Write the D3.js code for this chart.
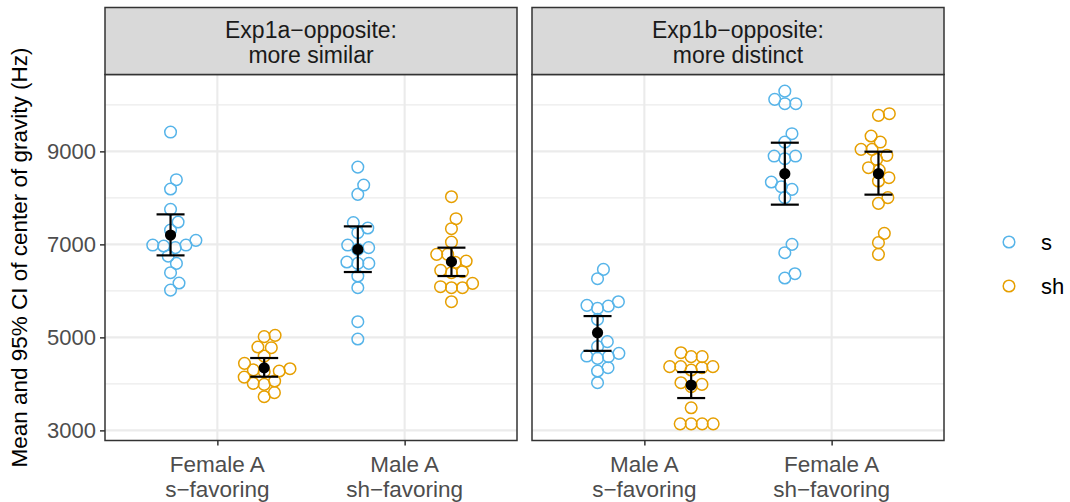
<!DOCTYPE html>
<html>
<head>
<meta charset="utf-8">
<script src="https://cdn.jsdelivr.net/npm/d3@7"></script>
<style>
  html, body { margin: 0; padding: 0; background: #fff; }
  svg { display: block; font-family: "Liberation Sans", Arial, Helvetica, sans-serif; }
</style>
</head>
<body>
<svg id="chart" width="1070" height="502"></svg>
<script>
// Facet titles and the two talker conditions inside each facet
const facetLabels = ["Exp1a\u2212opposite:\nmore similar", "Exp1b\u2212opposite:\nmore distinct"];
const exp1aCategories = ["Female A\ns\u2212favoring", "Male A\nsh\u2212favoring"];
const exp1bCategories = ["Male A\ns\u2212favoring", "Female A\nsh\u2212favoring"];
const seriesNames = ["s", "sh"];
const yTicks = [3000, 5000, 7000, 9000];
const yMinorTicks = [4000, 6000, 8000, 10000];

// Per-listener centre of gravity (Hz)
const exp1aFemaleA_s  = [9415, 8391, 8190, 7753, 7480, 7308, 6985, 6964, 6929, 6985, 7086, 6748, 6591, 6391, 6168, 6017];
const exp1aMaleA_s    = [8662, 8275, 8075, 7467, 7351, 7251, 6985, 6929, 6892, 6620, 6591, 6591, 6319, 6068, 5337, 4964];
const exp1aFemaleA_sh = [5015, 5043, 4778, 4792, 4598, 4441, 4276, 4262, 4326, 4300, 4146, 4011, 3989, 4061, 3811, 3724];
const exp1aMaleA_sh   = [8025, 7552, 7337, 7049, 6785, 6642, 6785, 6613, 6441, 6412, 6391, 6090, 6068, 6068, 6161, 5767];
const exp1bMaleA_s    = [6462, 6262, 5688, 5624, 5673, 5767, 5387, 4908, 4800, 4656, 4585, 4598, 4548, 4276, 4348, 4025];
const exp1bFemaleA_s  = [10295, 10118, 10025, 10025, 9380, 9200, 8899, 8842, 8899, 8340, 8240, 8183, 8004, 7000, 6821, 6369, 6276];
const exp1bMaleA_sh   = [4670, 4585, 4585, 4370, 4370, 4298, 4348, 4370, 4025, 3989, 3939, 3486, 3140, 3140, 3140, 3140];
const exp1bFemaleA_sh = [9810, 9774, 9330, 9200, 9043, 9043, 8914, 8828, 8649, 8598, 8434, 8362, 8004, 7882, 7237, 7037, 6785];

// Means and 95% CI bounds, ordered [category][series]
const exp1aMeans = [[7200, 4344], [6892, 6628]];
const exp1aLower = [[6763, 4154], [6405, 6319]];
const exp1aUpper = [[7645, 4556], [7387, 6929]];
const exp1bMeans = [[5101, 3975], [8520, 8520]];
const exp1bLower = [[4710, 3695], [7854, 8069]];
const exp1bUpper = [[5458, 4254], [9186, 8993]];

const facets = [
  { label: facetLabels[0], categories: exp1aCategories,
    values: [[exp1aFemaleA_s, exp1aFemaleA_sh], [exp1aMaleA_s, exp1aMaleA_sh]],
    means: exp1aMeans, lower: exp1aLower, upper: exp1aUpper },
  { label: facetLabels[1], categories: exp1bCategories,
    values: [[exp1bMaleA_s, exp1bMaleA_sh], [exp1bFemaleA_s, exp1bFemaleA_sh]],
    means: exp1bMeans, lower: exp1bLower, upper: exp1bUpper }
];

const colors = d3.scaleOrdinal().domain(seriesNames).range(["#56B4E9", "#E69F00"]);

// Layout
const panelTop = 74.5, panelBottom = 440.5, stripTop = 7.5;
const panelX = [[105, 517], [532, 944]];
const border = "#333333", grid = "#EBEBEB";
const pointR = 5.8, swarmGap = 11;

const svg = d3.select("#chart");

// Shared y scale with a 5% expansion around the data
const allValues = facets.flatMap(f => f.values.flat(2));
const [lo, hi] = d3.extent(allValues);
const pad = (hi - lo) * 0.05;
const y = d3.scaleLinear().domain([lo - pad, hi + pad]).range([panelBottom, panelTop]);

// Beeswarm offsets: points placed in ascending order at the free spot closest to centre
function swarm(vals) {
  const pts = vals.map(v => ({ v, y: y(v), x: 0 }));
  const order = pts.slice().sort((a, b) => a.v - b.v);
  const placed = [];
  for (const p of order) {
    const cands = [0];
    for (const q of placed) {
      const dy = Math.abs(p.y - q.y);
      if (dy < swarmGap) {
        const dx = Math.sqrt(swarmGap * swarmGap - dy * dy);
        cands.push(q.x + dx, q.x - dx);
      }
    }
    cands.sort((a, b) => (Math.abs(a) - Math.abs(b)) || (b - a));
    for (const c of cands) {
      if (placed.every(q => (q.x - c) ** 2 + (q.y - p.y) ** 2 >= swarmGap * swarmGap - 1e-6)) { p.x = c; break; }
    }
    placed.push(p);
  }
  return pts;
}

facets.forEach((f, fi) => {
  const [x0, x1] = panelX[fi];
  const x = d3.scalePoint().domain(f.categories).range([x0, x1]).padding(0.6);
  const dodge = d3.scalePoint().domain(seriesNames).range([-x.step() * 0.25, x.step() * 0.25]);
  const g = svg.append("g");

  // panel background + grid
  g.append("rect").attr("x", x0).attr("y", panelTop).attr("width", x1 - x0).attr("height", panelBottom - panelTop).attr("fill", "#fff");
  g.selectAll(".minor").data(yMinorTicks.filter(t => y(t) > panelTop)).join("line")
    .attr("x1", x0).attr("x2", x1).attr("y1", d => y(d)).attr("y2", d => y(d))
    .attr("stroke", grid).attr("stroke-width", 1.1);
  g.selectAll(".major").data(yTicks).join("line")
    .attr("x1", x0).attr("x2", x1).attr("y1", d => y(d)).attr("y2", d => y(d))
    .attr("stroke", grid).attr("stroke-width", 2.1);
  g.selectAll(".vmajor").data(f.categories).join("line")
    .attr("x1", d => x(d)).attr("x2", d => x(d)).attr("y1", panelTop).attr("y2", panelBottom)
    .attr("stroke", grid).attr("stroke-width", 2.1);

  // swarm points
  f.categories.forEach((cat, ci) => {
    seriesNames.forEach((s, si) => {
      const pts = swarm(f.values[ci][si]);
      const cx = x(cat) + dodge(s);
      g.append("g").selectAll("circle").data(pts).join("circle")
        .attr("cx", d => cx + d.x).attr("cy", d => d.y).attr("r", pointR)
        .attr("fill", "none").attr("stroke", colors(s)).attr("stroke-width", 1.5);
    });
  });

  // means with 95% CI
  f.categories.forEach((cat, ci) => {
    seriesNames.forEach((s, si) => {
      const cx = x(cat) + dodge(s);
      const eg = g.append("g").attr("stroke", "#000").attr("stroke-width", 2.2);
      eg.append("line").attr("x1", cx).attr("x2", cx).attr("y1", y(f.lower[ci][si])).attr("y2", y(f.upper[ci][si]));
      eg.append("line").attr("x1", cx - 14).attr("x2", cx + 14).attr("y1", y(f.lower[ci][si])).attr("y2", y(f.lower[ci][si]));
      eg.append("line").attr("x1", cx - 14).attr("x2", cx + 14).attr("y1", y(f.upper[ci][si])).attr("y2", y(f.upper[ci][si]));
      g.append("circle").attr("cx", cx).attr("cy", y(f.means[ci][si])).attr("r", 5.6).attr("fill", "#000");
    });
  });

  // panel border
  g.append("rect").attr("x", x0).attr("y", panelTop).attr("width", x1 - x0).attr("height", panelBottom - panelTop)
    .attr("fill", "none").attr("stroke", border).attr("stroke-width", 1.5);

  // strip
  g.append("rect").attr("x", x0).attr("y", stripTop).attr("width", x1 - x0).attr("height", panelTop - stripTop)
    .attr("fill", "#D9D9D9").attr("stroke", border).attr("stroke-width", 1.5);
  const st = g.append("text").attr("x", (x0 + x1) / 2).attr("text-anchor", "middle")
    .attr("fill", "#1A1A1A").attr("font-size", 23);
  f.label.split("\n").forEach((line, li) => {
    st.append("tspan").attr("x", (x0 + x1) / 2).attr("y", 38 + li * 25).text(line);
  });

  // x axis
  const xa = g.append("g").attr("transform", `translate(0,${panelBottom})`)
    .call(d3.axisBottom(x).tickSize(5).tickFormat(""));
  xa.select(".domain").remove();
  xa.selectAll(".tick line").attr("stroke", border).attr("stroke-width", 1.5);
  f.categories.forEach(cat => {
    const t = g.append("text").attr("text-anchor", "middle").attr("fill", "#4D4D4D").attr("font-size", 22.5);
    cat.split("\n").forEach((line, li) => {
      t.append("tspan").attr("x", x(cat)).attr("y", 472 + li * 25).text(line);
    });
  });
});

// y axis on the left panel
const ya = svg.append("g").attr("transform", `translate(${panelX[0][0]},0)`)
  .call(d3.axisLeft(y).tickValues(yTicks).tickSize(5).tickPadding(4).tickFormat(d3.format("d")));
ya.select(".domain").remove();
ya.selectAll(".tick line").attr("stroke", border).attr("stroke-width", 1.5);
ya.selectAll(".tick text").attr("fill", "#4D4D4D").attr("font-size", 22)
  .attr("font-family", "Liberation Sans, Arial, sans-serif");

// y axis title
svg.append("text")
  .attr("transform", `translate(27,${(panelTop + panelBottom) / 2}) rotate(-90)`)
  .attr("text-anchor", "middle").attr("fill", "#000").attr("font-size", 22.5)
  .text("Mean and 95% CI of center of gravity (Hz)");

// legend
const lg = svg.append("g").selectAll("g").data(seriesNames).join("g")
  .attr("transform", (d, i) => `translate(1009,${242 + i * 44})`);
lg.append("circle").attr("r", pointR).attr("fill", "none").attr("stroke", d => colors(d)).attr("stroke-width", 1.5);
lg.append("text").attr("x", 32).attr("y", 7.5).attr("font-size", 22).attr("fill", "#000").text(d => d);
</script>
</body>
</html>
